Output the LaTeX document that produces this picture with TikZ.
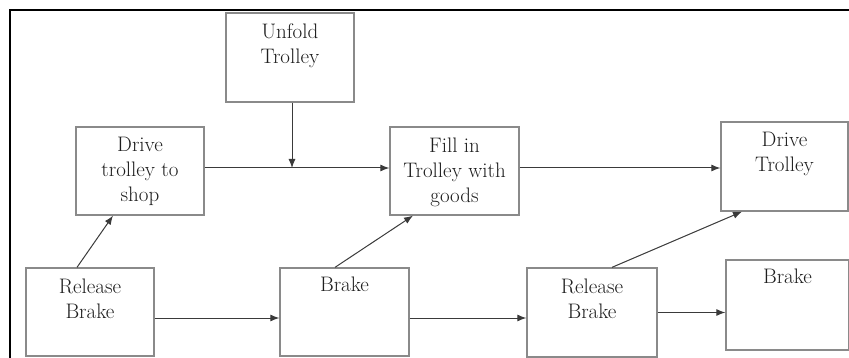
\documentclass[tikz,border=0pt]{standalone}
\usetikzlibrary{arrows.meta}
\definecolor{boxgray}{HTML}{8A8A8A}
\definecolor{linegray}{HTML}{3A3A3A}
\definecolor{txtgray}{HTML}{1E1E1E}
\tikzset{
  stepbox/.style={draw=boxgray, line width=1.3pt, rectangle, inner sep=0pt, fill=white},
  lbl/.style={anchor=north, inner sep=0pt, align=center, text=txtgray,
    font=\fontsize{21}{25}\selectfont, yshift=-11pt},
  conn/.style={draw=linegray, line width=1pt, -{Latex[length=9pt,width=7pt]}},
  frameline/.style={draw=black, line width=2.2pt}
}
\begin{document}
\begin{tikzpicture}[x=1pt,y=-1pt]
\useasboundingbox (0,0) rectangle (849,358);
\draw[frameline] (10,360) -- (10,10) -- (851,10);
\node[stepbox, minimum width=128pt, minimum height=89pt,
  label={[lbl]north:Unfold\\Trolley}] (unfold) at (290,57.5) {};
\node[stepbox, minimum width=128pt, minimum height=88pt,
  label={[lbl]north:Drive\\trolley to\\shop}] (drive1) at (140,171) {};
\node[stepbox, minimum width=129pt, minimum height=88pt,
  label={[lbl]north:Fill in\\Trolley with\\goods}] (fill) at (454.5,171) {};
\node[stepbox, minimum width=127pt, minimum height=89pt,
  label={[lbl]north:Drive\\Trolley}] (drive2) at (784.5,166.5) {};
\node[stepbox, minimum width=128pt, minimum height=88pt,
  label={[lbl]north:Release\\Brake}] (rel1) at (90,312) {};
\node[stepbox, minimum width=129pt, minimum height=88pt,
  label={[lbl, yshift=2pt]north:Brake}] (brake1) at (344.5,312) {};
\node[stepbox, minimum width=130pt, minimum height=89pt,
  label={[lbl]north:Release\\Brake}] (rel2) at (592,312.5) {};
\node[stepbox, minimum width=123pt, minimum height=90pt,
  label={[lbl, yshift=2pt]north:Brake}] (brake2) at (787.5,305) {};
% junction on the horizontal line
\coordinate (j) at ([xshift=2pt]unfold.south |- 0,168);
\draw[conn] ([xshift=2pt]unfold.south) -- (j);
\draw[conn] ([yshift=3pt]drive1.east) -- ([yshift=3pt]fill.west);
\draw[conn] ([yshift=3pt]fill.east) -- ([yshift=3pt]fill.east -| drive2.west);
\draw[conn] ([xshift=-13pt]rel1.north) -- ([xshift=-27pt]drive1.south);
\draw[conn] ([xshift=-9.5pt]brake1.north) -- ([xshift=-41.5pt]fill.south);
\draw[conn] ([xshift=20pt]rel2.north) -- ([xshift=-42.5pt]drive2.south);
\draw[conn] ([yshift=-6pt]rel1.east) -- ([yshift=-6pt]rel1.east -| brake1.west);
\draw[conn] ([yshift=-6pt]brake1.east) -- ([yshift=-6pt]brake1.east -| rel2.west);
\draw[conn] (rel2.east) -- (rel2.east -| brake2.west);
\end{tikzpicture}
\end{document}
